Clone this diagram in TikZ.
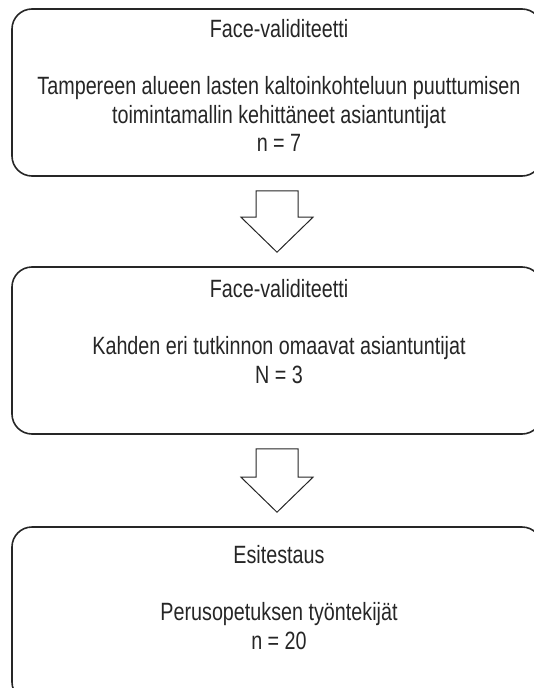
\documentclass[tikz,border=0pt]{standalone}
\usepackage{fontspec}
\setmainfont{Liberation Sans}[FakeStretch=0.79]
\usetikzlibrary{positioning, calc}

\begin{document}
\begin{tikzpicture}[
    x=1pt, y=-1pt, % Pixel-like units, y grows downwards
    % Styles
    stage/.style={ % Rounded stage box
        rectangle,
        rounded corners=20pt,
        draw=black!85,
        line width=1.6pt,
        minimum width=530pt,
        minimum height=167pt
    },
    caption/.style={ % Texts inside a stage box
        align=center,
        inner sep=0pt,
        anchor=north,
        font=\fontsize{25}{28.5}\selectfont,
        text=black!85
    },
    flow/.style={ % Hollow block arrows between stages
        draw=black!85,
        line width=1pt,
        fill=white,
        line join=miter
    }
]

    \useasboundingbox (0,0) rectangle (534,688);
    \clip (0,0) rectangle (534,688);

    % Stage boxes
    \node [stage] (box1) at (277,92.5) {};
    \node [stage] (box2) at (277,350.5) {};
    \node [stage, minimum height=175pt] (box3) at (277,614.5) {};

    % Texts
    \node [caption] (txt1) at ($(box1.north)+(2,11)$) {Face-validiteetti\\[28.5pt]
        Tampereen alueen lasten kaltoinkohteluun puuttumisen\\
        toimintamallin kehittäneet asiantuntijat\\
        n = 7};
    \node [caption] (txt2) at ($(box2.north)+(2,13)$) {Face-validiteetti\\[28.5pt]
        Kahden eri tutkinnon omaavat asiantuntijat\\
        N = 3};
    \node [caption] (txt3) at ($(box3.north)+(2,19)$) {Esitestaus\\[28.5pt]
        Perusopetuksen työntekijät\\
        n = 20};

    % Block arrows from stage to stage
    \foreach \a/\b in {box1/box2, box2/box3}
        \draw [flow] ($(\a.south)+(-21,14)$) -- ++(42,0) |- ($(\b.north)+(36,-49)$)
            -- ($(\b.north)+(0,-14)$) -- ++(-36,-35) -- ++(15,0) -- cycle;
\end{tikzpicture}
\end{document}
